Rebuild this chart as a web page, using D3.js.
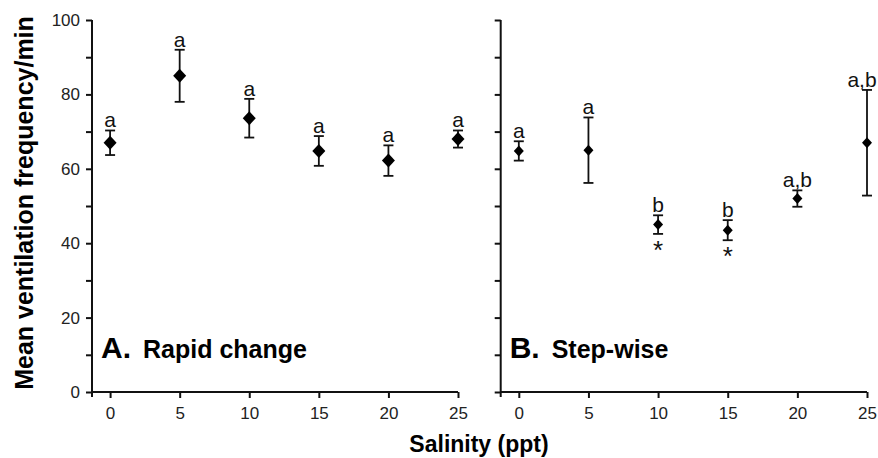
<!DOCTYPE html>
<html>
<head>
<meta charset="utf-8">
<script src="https://cdn.jsdelivr.net/npm/d3@7"></script>
<style>
  body { margin: 0; background: #fff; }
  svg { display: block; font-family: "Liberation Sans", Arial, sans-serif; }
  .axis path, .axis line { stroke: #111; stroke-width: 2; }
  .axis text { font-size: 17px; fill: #222; }
</style>
</head>
<body>
<div id="chart"></div>
<script>
// salinity levels (ppt)
var salinity = [0, 5, 10, 15, 20, 25];

// A. rapid change
var rapidMean = [67, 85, 73.6, 64.8, 62.2, 68];
var rapidErr  = [3.3, 7, 5.2, 4, 4.1, 2.3];
var rapidLetters = ["a", "a", "a", "a", "a", "a"];

// B. step-wise
var stepMean = [64.8, 65, 45, 43.5, 52, 67];
var stepErr  = [2.6, 8.8, 2.5, 2.7, 2.2, 14.2];
var stepLetters = ["a", "a", "b", "b", "a,b", "a,b"];
var stepStars = [false, false, true, true, false, false];

var yTicks = [0, 10, 20, 30, 40, 50, 60, 70, 80, 90, 100];
var xTicks = [0, 5, 10, 15, 20, 25];

var W = 878, H = 458;
var svg = d3.select("#chart").append("svg")
    .attr("width", W)
    .attr("height", H);

var y = d3.scaleLinear().domain([0, 100]).range([392, 20]);

function panel(x0, x1, means, errs, letters, stars, label, title, mk) {
  var x = d3.scaleLinear().domain([-1.3, 25]).range([x0, x1]);
  var g = svg.append("g");

  // x axis
  var xa = g.append("g")
      .attr("class", "axis")
      .attr("transform", "translate(0," + y(0) + ")")
      .call(d3.axisBottom(x).tickValues(xTicks).tickSize(6).tickSizeOuter(0).tickPadding(9));
  xa.select(".domain").attr("d", "M" + x0 + ",0H" + x1);

  // y axis
  var ya = g.append("g")
      .attr("class", "axis")
      .attr("transform", "translate(" + x(-1.3) + ",0)")
      .call(d3.axisLeft(y).tickValues(yTicks).tickSize(6).tickSizeOuter(0).tickPadding(6)
        .tickFormat(function(d) { return (label === "A." && d % 20 === 0) ? d : ""; }));
  ya.select(".domain").attr("d", "M0," + y(100) + "V" + (y(0) + 5));

  // error bars
  var pts = salinity.map(function(s, i) {
    return { s: s, m: means[i], e: errs[i], l: letters[i], star: stars ? stars[i] : false };
  });
  var cap = 5;
  var eb = g.selectAll(".eb").data(pts).enter().append("g").attr("class", "eb");
  eb.append("line")
      .attr("x1", function(d) { return x(d.s); })
      .attr("x2", function(d) { return x(d.s); })
      .attr("y1", function(d) { return y(d.m - d.e); })
      .attr("y2", function(d) { return y(d.m + d.e); })
      .attr("stroke", "#111").attr("stroke-width", 1.8);
  eb.append("line")
      .attr("x1", function(d) { return x(d.s) - cap; })
      .attr("x2", function(d) { return x(d.s) + cap; })
      .attr("y1", function(d) { return y(d.m + d.e); })
      .attr("y2", function(d) { return y(d.m + d.e); })
      .attr("stroke", "#111").attr("stroke-width", 1.8);
  eb.append("line")
      .attr("x1", function(d) { return x(d.s) - cap; })
      .attr("x2", function(d) { return x(d.s) + cap; })
      .attr("y1", function(d) { return y(d.m - d.e); })
      .attr("y2", function(d) { return y(d.m - d.e); })
      .attr("stroke", "#111").attr("stroke-width", 1.8);

  // diamonds
  g.selectAll(".dot").data(pts).enter().append("path")
      .attr("class", "dot")
      .attr("transform", function(d) { return "translate(" + x(d.s) + "," + y(d.m) + ")"; })
      .attr("d", "M0," + (-mk[1]) + "L" + mk[0] + ",0L0," + mk[1] + "L" + (-mk[0]) + ",0Z")
      .attr("fill", "#000");

  // significance letters (last one nudged in so it stays on the page)
  g.selectAll(".let").data(pts).enter().append("text")
      .attr("x", function(d) { return Math.min(x(d.s), W - 16); })
      .attr("y", function(d) { return y(d.m + d.e) - 3; })
      .attr("text-anchor", "middle")
      .attr("font-size", 21)
      .attr("fill", "#111")
      .text(function(d) { return d.l; });

  // stars
  g.selectAll(".star").data(pts.filter(function(d) { return d.star; })).enter().append("text")
      .attr("x", function(d) { return x(d.s); })
      .attr("y", function(d) { return y(d.m - d.e) + 25; })
      .attr("text-anchor", "middle")
      .attr("font-size", 26)
      .attr("fill", "#111")
      .text("*");

  // panel label
  var t = g.append("text")
      .attr("x", x0 + 9)
      .attr("y", 358)
      .attr("font-weight", "bold")
      .attr("fill", "#000");
  t.append("tspan").attr("font-size", 30).text(label);
  t.append("tspan").attr("font-size", 25).attr("dx", 12).text(title);
}

panel(92, 458, rapidMean, rapidErr, rapidLetters, null, "A.", "Rapid change", [6.5, 7]);
panel(500.7, 867, stepMean, stepErr, stepLetters, stepStars, "B.", "Step-wise", [5, 5.5]);

// axis titles
svg.append("text")
    .attr("transform", "translate(33,203) rotate(-90)")
    .attr("text-anchor", "middle")
    .attr("font-size", 25)
    .attr("font-weight", "bold")
    .text("Mean ventilation frequency/min");

svg.append("text")
    .attr("x", 479)
    .attr("y", 452)
    .attr("text-anchor", "middle")
    .attr("font-size", 23)
    .attr("font-weight", "bold")
    .text("Salinity (ppt)");
</script>
</body>
</html>
